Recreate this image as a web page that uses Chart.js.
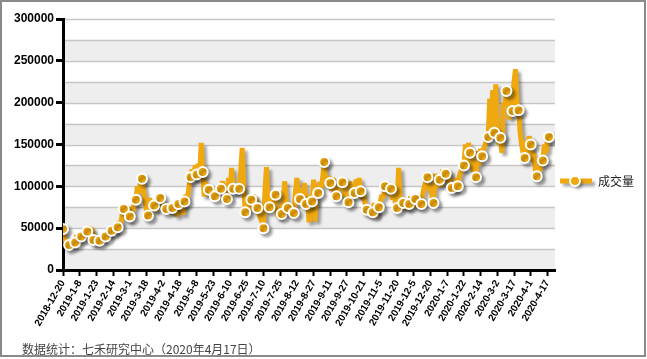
<!DOCTYPE html>
<html>
<head>
<meta charset="utf-8">
<script src="https://cdn.jsdelivr.net/npm/chart.js@4/dist/chart.umd.min.js"></script>
<style>
  html, body { margin: 0; padding: 0; background: #fff; }
  #wrap { position: relative; width: 647px; height: 359px; }
  #caption { position: absolute; left: 22px; top: 342px; font: 12px/14px "Noto Sans CJK SC", "Liberation Sans", sans-serif; color: #444; white-space: nowrap; }
</style>
</head>
<body>
<div id="wrap">
  <canvas id="c" width="647" height="359"></canvas>
  <div id="caption">数据统计：七禾研究中心（2020年4月17日）</div>
</div>
<script>
// ---- data ----
const seriesName = '成交量';
const tickLabels = ['2018-12-20','2019-1-8','2019-1-23','2019-2-14','2019-3-1','2019-3-18','2019-4-2','2019-4-18','2019-5-8','2019-5-23','2019-6-10','2019-6-25','2019-7-10','2019-7-25','2019-8-12','2019-8-27','2019-9-11','2019-9-27','2019-10-21','2019-11-5','2019-11-20','2019-12-5','2019-12-20','2020-1-7','2020-1-22','2020-2-14','2020-3-2','2020-3-17','2020-4-1','2020-4-17'];
const tickEvery = 11;      // trading days between labelled ticks
const markerEvery = 4;     // a marker on every 4th trading day
const volume = [
  49000,38000,33000,29000, 30000,36000,31000,34000, 33000,42000,37000,44000, 40000,35000,45000,39000,
  46000,52000,41000,50000, 36000,31000,38000,33000, 35000,38000,36000,42000, 40000,44000,41000,45000,
  47000,43000,50000,46000, 51000,58000,55000,66000, 73000,62000,70000,59000, 64000,75000,70000,80000,
  84000,100000,92000,105000, 109000,95000,84000,70000, 65000,86000,72000,80000, 77000,70000,82000,75000,
  86000,78000,72000,80000, 73000,78000,70000,76000, 74000,69000,77000,64000, 79000,72000,80000,66000,
  82000,90000,86000,100000, 111000,120000,108000,125000, 114000,127000,112000,152000, 117000,88000,105000,92000,
  96000,92000,99000,90000, 88000,94000,90000,100000, 97000,106000,95000,90000, 85000,110000,92000,122000,
  97000,92000,100000,94000, 97000,118000,146000,100000, 69000,75000,80000,72000, 84000,90000,78000,86000,
  74000,68000,62000,58000, 50000,95000,123000,82000, 75000,80000,85000,95000, 90000,70000,62000,74000,
  67000,85000,106000,80000, 74000,66000,76000,70000, 68000,93000,110000,88000, 85000,98000,80000,104000,
  79000,90000,57000,72000, 82000,108000,58000,96000, 92000,105000,98000,110000, 129000,108000,100000,112000,
  104000,95000,110000,92000, 88000,96000,100000,98000, 105000,95000,86000,80000, 81000,106000,85000,100000,
  92000,108000,96000,110000, 94000,85000,90000,78000, 72000,76000,65000,74000, 69000,80000,63000,78000,
  75000,82000,90000,86000, 100000,94000,104000,90000, 97000,84000,92000,80000, 74000,122000,85000,78000,
  80000,74000,84000,72000, 79000,88000,76000,82000, 85000,74000,82000,77000, 79000,92000,100000,106000,
  111000,95000,102000,88000, 80000,115000,98000,112000, 108000,100000,120000,110000, 115000,105000,118000,95000,
  98000,104000,95000,110000, 100000,112000,118000,120000, 125000,150000,128000,152000, 140000,130000,118000,125000,
  111000,142000,125000,145000, 136000,145000,150000,155000, 159000,205000,175000,215000, 164000,222000,170000,150000,
  158000,140000,200000,195000, 214000,200000,180000,205000, 190000,225000,240000,200000, 191000,165000,150000,140000,
  134000,155000,140000,160000, 150000,130000,140000,120000, 112000,125000,118000,128000, 131000,150000,140000,155000,
  159000
];
const yMax = 300000;
const yStep = 50000;

// ---- style ----
const ORANGE = '#F0A80F';

const chromePlugin = {
  id: 'chrome',
  beforeDraw(chart) {
    const ctx = chart.ctx, a = chart.chartArea, y = chart.scales.y;
    ctx.save();
    ctx.fillStyle = '#fff';
    ctx.fillRect(0, 0, chart.width, chart.height);
    ctx.strokeStyle = '#8a8a8a';
    ctx.lineWidth = 2;
    ctx.strokeRect(1, 1, 644, 355);
    const half = yStep / 2;
    for (let v = 0; v < yMax; v += half) {
      if ((v / half) % 2 === 0) {
        const y0 = y.getPixelForValue(v), y1 = y.getPixelForValue(v + half);
        ctx.fillStyle = '#eeeeee';
        ctx.fillRect(a.left, y1, a.right - a.left, y0 - y1);
      }
    }
    ctx.strokeStyle = '#c6c6c6';
    ctx.lineWidth = 1.5;
    for (let v = half; v <= yMax; v += half) {
      const py = Math.round(y.getPixelForValue(v)) + 0.5;
      ctx.beginPath(); ctx.moveTo(a.left, py); ctx.lineTo(a.right, py); ctx.stroke();
    }
    ctx.restore();
  },
  beforeDatasetDraw(chart) {
    const ctx = chart.ctx;
    ctx.save();
    ctx.shadowColor = 'rgba(0,0,0,0.35)';
    ctx.shadowOffsetX = 3; ctx.shadowOffsetY = 3; ctx.shadowBlur = 3;
  },
  afterDatasetDraw(chart) { chart.ctx.restore(); },
  afterDraw(chart) {
    const ctx = chart.ctx;
    const ly = 181;
    ctx.save();
    ctx.shadowColor = 'rgba(0,0,0,0.35)';
    ctx.shadowOffsetX = 3; ctx.shadowOffsetY = 3; ctx.shadowBlur = 3;
    ctx.strokeStyle = ORANGE; ctx.lineWidth = 5;
    ctx.beginPath(); ctx.moveTo(560, ly); ctx.lineTo(592, ly); ctx.stroke();
    ctx.beginPath(); ctx.arc(575, ly, 5, 0, Math.PI * 2);
    ctx.fillStyle = ORANGE; ctx.fill();
    ctx.shadowColor = 'transparent';
    ctx.lineWidth = 2; ctx.strokeStyle = '#fff'; ctx.stroke();
    ctx.fillStyle = '#222';
    ctx.font = '12px "Noto Sans CJK SC", sans-serif';
    ctx.textBaseline = 'middle';
    ctx.fillText(seriesName, 598, ly);
    ctx.restore();
  }
};

new Chart(document.getElementById('c'), {
  type: 'line',
  data: {
    datasets: [{
      label: seriesName,
      data: volume.map((v, i) => ({ x: i, y: v })),
      borderColor: ORANGE,
      borderWidth: 5,
      borderJoinStyle: 'bevel',
      tension: 0,
      fill: false,
      pointRadius: ctx => (ctx.dataIndex % markerEvery === 0 ? 5 : 0),
      pointBackgroundColor: ORANGE,
      pointBorderColor: '#fff',
      pointBorderWidth: 2,
      pointHoverRadius: 5
    }]
  },
  options: {
    responsive: false,
    animation: false,
    layout: { padding: { left: 3, top: 19, right: 92, bottom: 29 } },
    plugins: { legend: { display: false }, tooltip: { enabled: false } },
    scales: {
      x: {
        type: 'linear',
        min: 0,
        max: 324,
        afterBuildTicks: axis => { axis.ticks = tickLabels.map((_, i) => ({ value: i * tickEvery })); },
        afterFit: s => { s.height = 60; },
        grid: { drawOnChartArea: false, color: '#000', tickLength: 6, tickWidth: 2 },
        border: { color: '#000', width: 3 },
        ticks: {
          autoSkip: false,
          minRotation: 60, maxRotation: 60,
          padding: 2,
          color: '#000',
          font: { family: '"Liberation Sans", Arial, sans-serif', size: 10, weight: 'bold' },
          callback: v => tickLabels[Math.round(v / tickEvery)]
        }
      },
      y: {
        min: 0, max: yMax,
        afterFit: s => { s.width = 60; },
        grid: { drawOnChartArea: false, color: '#000', tickLength: 7, tickWidth: 3 },
        border: { color: '#000', width: 3 },
        ticks: {
          stepSize: yStep,
          padding: 2,
          color: '#000',
          font: { family: '"Liberation Sans", Arial, sans-serif', size: 12, weight: 'bold' },
          callback: v => String(v)
        }
      }
    }
  },
  plugins: [chromePlugin]
});
</script>
</body>
</html>
